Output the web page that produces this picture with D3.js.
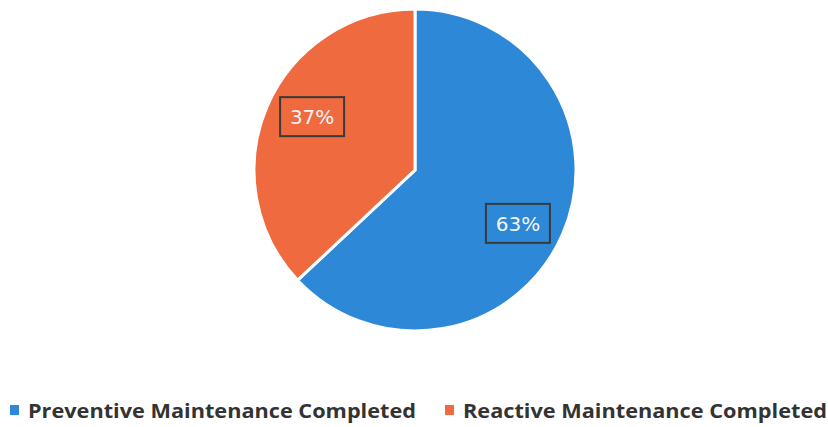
<!DOCTYPE html>
<html><head><meta charset="utf-8">
<script src="https://cdn.jsdelivr.net/npm/d3@7"></script>
<style>body{margin:0;background:#fff}svg{display:block}</style>
</head><body>
<svg id="c" width="828" height="427"></svg>
<script>
const categories = ["Preventive Maintenance Completed", "Reactive Maintenance Completed"];
const values = [63, 37];
const colors = ["#2e88d8", "#ef6a3f"];

const svg = d3.select("#c");
const cx = 415, cy = 170, r = 161;
const g = svg.append("g").attr("transform", `translate(${cx},${cy})`);
const pie = d3.pie().sort(null).value(d => d)(values);
const arc = d3.arc().innerRadius(0).outerRadius(r);
const lr = r * 0.72, shift = 0.07;
const labelPos = d => {
  const a = (d.startAngle + d.endAngle) / 2 + shift;
  return [Math.sin(a) * lr, -Math.cos(a) * lr];
};

g.selectAll("path").data(pie).join("path")
  .attr("d", arc).attr("fill", (d, i) => colors[i])
  .attr("stroke", "#fff").attr("stroke-width", 3);

const lab = g.selectAll("g.lab").data(pie).join("g").attr("class", "lab")
  .attr("transform", d => `translate(${labelPos(d)})`);
lab.append("rect").attr("x", -32).attr("y", -19.5).attr("width", 64).attr("height", 39)
  .attr("fill", "none").attr("stroke", "#3a3a3a").attr("stroke-width", 2);
lab.append("text").attr("text-anchor", "middle").attr("dy", "0.36em")
  .attr("font-family", "DejaVu Sans, sans-serif").attr("font-size", 20)
  .attr("fill", "#f4f4f4").text(d => d.data + "%");

const legX = [10, 445];
const leg = svg.selectAll("g.leg").data(categories).join("g").attr("class", "leg")
  .attr("transform", (d, i) => `translate(${legX[i]},0)`);
leg.append("rect").attr("x", 0).attr("y", 405).attr("width", 9).attr("height", 10)
  .attr("fill", (d, i) => colors[i]);
leg.append("text").attr("x", 18).attr("y", 418)
  .attr("font-family", "Open Sans, sans-serif").attr("font-weight", "bold").attr("font-size", 19)
  .attr("fill", "#333").attr("textLength", (d, i) => i === 0 ? 388 : 364)
  .attr("lengthAdjust", "spacingAndGlyphs").text(d => d);
</script>
</body></html>
